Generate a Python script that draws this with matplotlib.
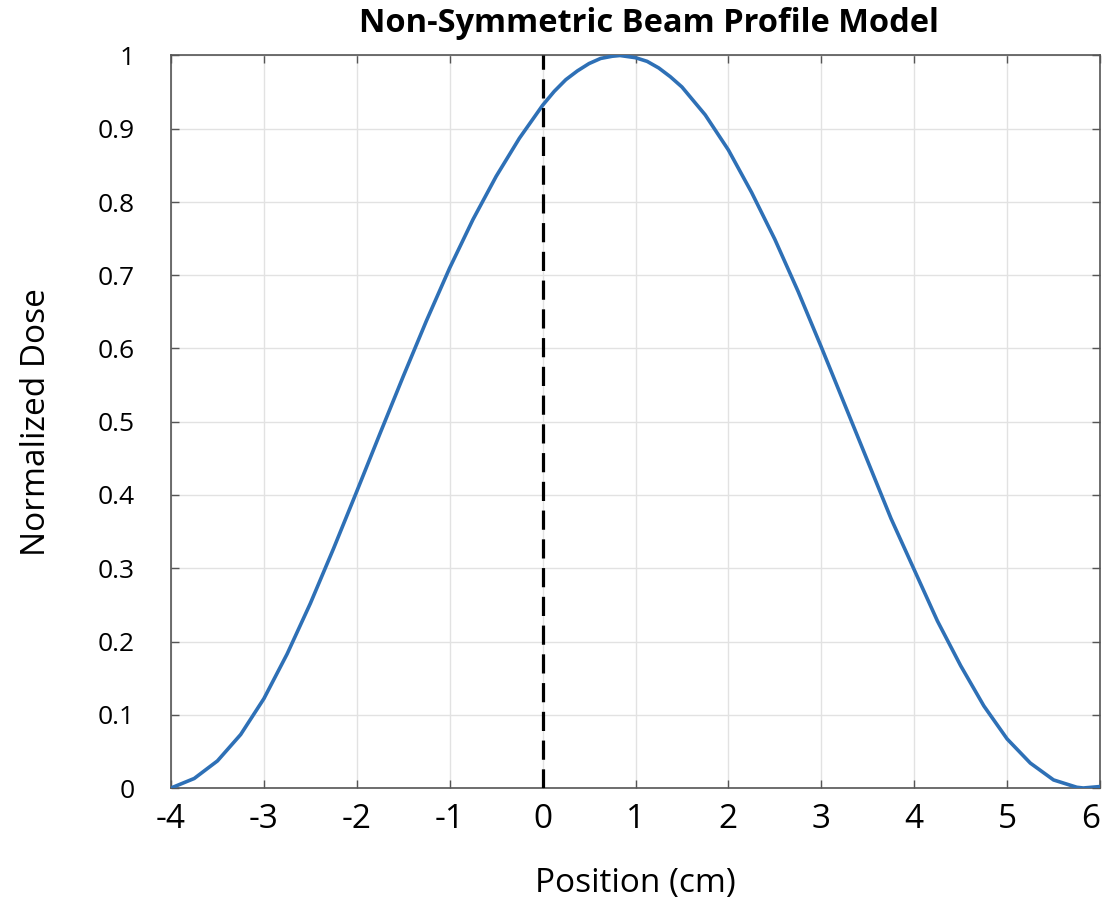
import matplotlib
matplotlib.use("Agg")
import matplotlib.pyplot as plt

# Data
position_cm = [-4.0, -3.75, -3.5, -3.25, -3.0, -2.75, -2.5, -2.25, -2.0, -1.75,
               -1.5, -1.25, -1.0, -0.75, -0.5, -0.25, 0.0, 0.125, 0.25, 0.375,
               0.5, 0.625, 0.75, 0.833, 1.0, 1.125, 1.25, 1.375, 1.5, 1.75,
               2.0, 2.25, 2.5, 2.75, 3.0, 3.25, 3.5, 3.75, 4.0, 4.25,
               4.5, 4.75, 5.0, 5.25, 5.5, 5.75, 5.82, 6.0]
normalized_dose = [0.0, 0.013, 0.037, 0.073, 0.122, 0.183, 0.252, 0.327, 0.405, 0.484,
                   0.562, 0.638, 0.710, 0.776, 0.835, 0.887, 0.932, 0.951, 0.967, 0.979,
                   0.989, 0.996, 0.999, 1.0, 0.997, 0.992, 0.983, 0.971, 0.957, 0.919,
                   0.871, 0.813, 0.749, 0.678, 0.602, 0.524, 0.446, 0.368, 0.298, 0.228,
                   0.167, 0.112, 0.067, 0.034, 0.011, 0.001, 0.0, 0.002]
reference_x = 0.0
x_ticks = [-4, -3, -2, -1, 0, 1, 2, 3, 4, 5, 6]
y_ticks = [0, 0.1, 0.2, 0.3, 0.4, 0.5, 0.6, 0.7, 0.8, 0.9, 1.0]
y_tick_labels = ["0", "0.1", "0.2", "0.3", "0.4", "0.5", "0.6", "0.7", "0.8", "0.9", "1"]

plt.rcParams['font.family'] = ['Open Sans', 'DejaVu Sans']

fig = plt.figure(figsize=(11.05, 9.13), dpi=100)
ax = fig.add_axes([171 / 1105, 1 - 788 / 913, (1100 - 171) / 1105, (788 - 55.5) / 913])

ax.plot(position_cm, normalized_dose, color='#2E70B6', linewidth=2.6,
        solid_joinstyle='round', solid_capstyle='round', zorder=3)
ax.axvline(reference_x, color='black', linewidth=2.3, linestyle=(0, (6, 3)), zorder=4)

ax.set_xlim(-4, 6)
ax.set_ylim(0, 1)
ax.set_xticks(x_ticks)
ax.set_xticklabels([str(t) for t in x_ticks])
ax.set_yticks(y_ticks)
ax.set_yticklabels(y_tick_labels)
xlabels = ax.get_xticklabels()
xlabels[-1].set_horizontalalignment('right')

ax.grid(True, color='#e2e2e2', linewidth=1.0, zorder=0)
ax.set_axisbelow(True)

for s in ax.spines.values():
    s.set_color('#555555')
    s.set_linewidth(1.2)

ax.tick_params(axis='both', which='both', direction='in', top=True, right=True,
               length=6, width=1.0, color='#555555')
ax.tick_params(axis='x', labelsize=24, pad=11)
ax.tick_params(axis='y', labelsize=19, pad=26)

ax.set_xlabel('Position (cm)', fontsize=24, labelpad=22)
ax.set_ylabel('Normalized Dose', fontsize=24, labelpad=32)
ax.set_title('Non-Symmetric Beam Profile Model', fontsize=23.5, fontweight='bold',
             pad=17, x=0.515)

fig.savefig('out.png', dpi=100)
